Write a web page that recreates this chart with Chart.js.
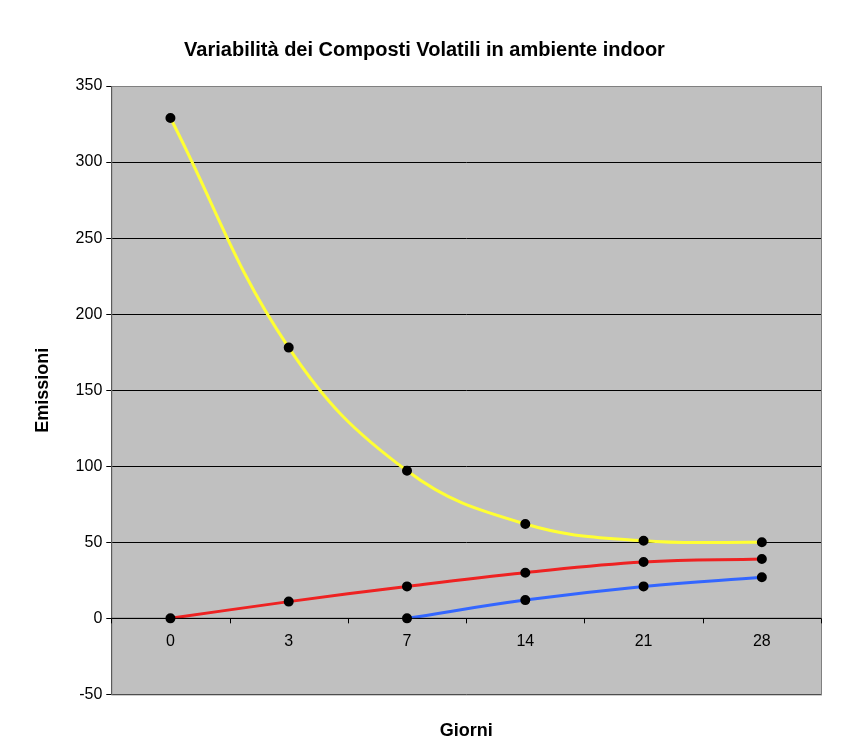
<!DOCTYPE html>
<html>
<head>
<meta charset="utf-8">
<script src="https://cdn.jsdelivr.net/npm/chart.js@4"></script>
<style>
  body { margin: 0; background: #fff; }
  #wrap { width: 858px; height: 754px; }
</style>
</head>
<body>
<div id="wrap"><canvas id="chart"></canvas></div>
<script>
// Data
const giorni = ['0', '3', '7', '14', '21', '28'];
const serieGialla = [329, 178, 97, 62, 51, 50];
const serieRossa = [0, 11, 21, 30, 37, 39];
const serieBlu = [null, null, 0, 12, 21, 27];
const yTicks = [-50, 0, 50, 100, 150, 200, 250, 300, 350];

const FONT = "'Liberation Sans', Arial, sans-serif";

// Grey plot background, frame, category labels sitting on the zero line
const plotDecor = {
    id: 'plotDecor',
    beforeDraw(chart) {
        const { ctx, chartArea: a } = chart;
        ctx.save();
        ctx.fillStyle = '#c0c0c0';
        ctx.fillRect(a.left, a.top, a.right - a.left, a.bottom - a.top);
        ctx.restore();
    },
    afterDatasetsDraw(chart) {
        const { ctx, chartArea: a, scales } = chart;
        const y0 = scales.y.getPixelForValue(0);
        ctx.save();
        ctx.strokeStyle = '#808080';
        ctx.lineWidth = 1;
        ctx.strokeRect(a.left + 0.5, a.top + 0.5, a.right - a.left, a.bottom - a.top);
        ctx.strokeStyle = '#000';
        ctx.beginPath();
        ctx.moveTo(a.left, y0);
        ctx.lineTo(a.right, y0);
        const n = giorni.length;
        const step = (a.right - a.left) / n;
        for (let i = 0; i <= n; i++) {
            const x = Math.round(a.left + step * i) + 0.5;
            ctx.moveTo(x, y0);
            ctx.lineTo(x, y0 + 5);
        }
        ctx.stroke();
        ctx.fillStyle = '#000';
        ctx.font = '16px ' + FONT;
        ctx.textAlign = 'center';
        ctx.textBaseline = 'top';
        giorni.forEach((g, i) => {
            ctx.fillText(g, scales.x.getPixelForValue(i), y0 + 15);
        });
        ctx.restore();
    }
};

function serie(data, color) {
    return {
        data: data,
        borderColor: color,
        borderWidth: 3,
        tension: 0.4,
        pointRadius: 3.5,
        pointBackgroundColor: '#000',
        pointBorderColor: '#000',
        spanGaps: false
    };
}

new Chart(document.getElementById('chart'), {
    type: 'line',
    data: {
        labels: giorni,
        datasets: [
            serie(serieGialla, '#ffff33'),
            serie(serieRossa, '#ee2222'),
            serie(serieBlu, '#3366ff')
        ]
    },
    plugins: [plotDecor],
    options: {
        responsive: true,
        maintainAspectRatio: false,
        animation: false,
        layout: { padding: { top: 0, right: 37, left: 28, bottom: 8 } },
        plugins: {
            legend: { display: false },
            tooltip: { enabled: false },
            title: {
                display: true,
                text: 'Variabilità dei Composti Volatili in ambiente indoor',
                color: '#000',
                font: { family: FONT, size: 20, weight: 'bold' },
                padding: { top: 38, bottom: 24 }
            }
        },
        scales: {
            x: {
                offset: true,
                grid: { display: false },
                border: { display: false },
                ticks: { display: false },
                title: {
                    display: true,
                    text: 'Giorni',
                    color: '#000',
                    font: { family: FONT, size: 18, weight: 'bold' },
                    padding: { top: 18 }
                }
            },
            y: {
                min: -50,
                max: 350,
                afterBuildTicks: s => { s.ticks = yTicks.map(v => ({ value: v })); },
                grid: { color: '#000', drawTicks: true, tickLength: 5 },
                border: { color: '#000' },
                ticks: { color: '#000', font: { family: FONT, size: 16 }, padding: 4 },
                title: {
                    display: true,
                    text: 'Emissioni',
                    color: '#000',
                    font: { family: FONT, size: 18, weight: 'bold' },
                    padding: { bottom: 18 }
                }
            }
        }
    }
});
</script>
</body>
</html>
